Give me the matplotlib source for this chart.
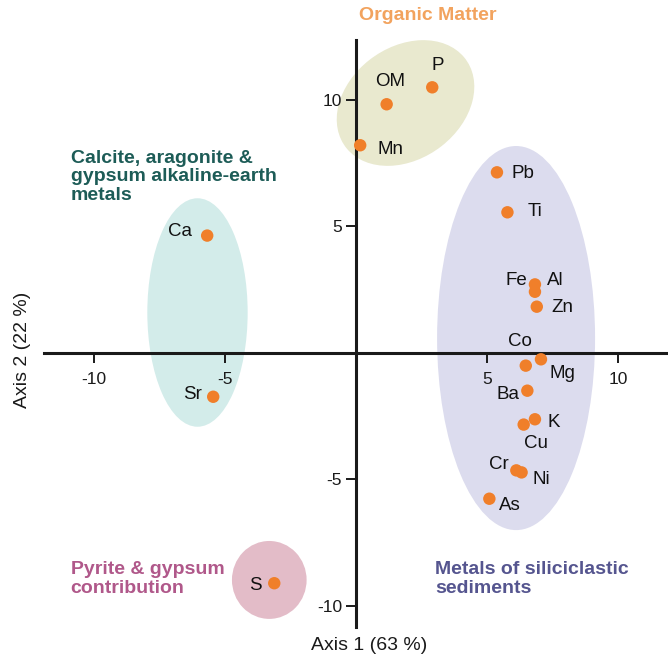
import matplotlib
matplotlib.use("Agg")
import matplotlib.pyplot as plt
from matplotlib.patches import Ellipse

plt.rcParams['font.family'] = ['Liberation Sans', 'DejaVu Sans']
plt.rcParams['axes.unicode_minus'] = False

# ---- data ----
elements = ["OM", "P", "Mn", "Pb", "Ti", "Al", "Fe", "Zn", "Co", "Mg", "Ba",
            "K", "Cu", "Cr", "Ni", "As", "Ca", "Sr", "S"]
axis1 = [1.17, 2.91, 0.16, 5.38, 5.78, 6.83, 6.83, 6.90, 6.48, 7.06, 6.54,
         6.83, 6.40, 6.12, 6.32, 5.09, -5.68, -5.45, -3.12]
axis2 = [9.83, 10.50, 8.21, 7.14, 5.56, 2.71, 2.42, 1.83, -0.50, -0.25, -1.49,
         -2.62, -2.83, -4.64, -4.72, -5.76, 4.64, -1.73, -9.10]
x_ticks = [-10, -5, 5, 10]
y_ticks = [-10, -5, 5, 10]
group_names = ["Organic Matter",
               "Calcite, aragonite &\ngypsum alkaline-earth\nmetals",
               "Metals of siliciclastic\nsediments",
               "Pyrite & gypsum\ncontribution"]

# label placement (offset pixels, ha)
label_pos = {
    "OM": (3, 23, "center"), "P": (6, 22, "center"), "Mn": (17, -4, "left"),
    "Pb": (15, -1, "left"), "Ti": (20, 1, "left"), "Fe": (-8, 11, "right"),
    "Al": (12, 4, "left"), "Zn": (15, -1, "left"), "Co": (-6, 24, "center"),
    "Mg": (9, -14, "left"), "Ba": (-8, -4, "right"), "K": (13, -3, "left"),
    "Cu": (12, -19, "center"), "Cr": (-8, 6, "right"), "Ni": (11, -7, "left"),
    "As": (10, -7, "left"), "Ca": (-15, 4, "right"), "Sr": (-11, 2, "right"),
    "S": (-13, -2, "right"),
}

W, H = 668, 659
fig = plt.figure(figsize=(W / 100, H / 100), dpi=100)
xlim = (-11.9, 11.9)
ylim = (-10.83, 12.37)
x0px, xscale = 356.0, 26.2
ytop, ybot = 40.0, 627.0
left = (x0px + xlim[0] * xscale) / W
right = (x0px + xlim[1] * xscale) / W
ax = fig.add_axes([left, 1 - ybot / H, right - left, (ybot - ytop) / H])
ax.set_xlim(*xlim)
ax.set_ylim(*ylim)

# ellipses (groups)
ells = [
    dict(xy=(1.89, 9.88), w=5.75, h=4.38, ang=39, fc="#e9e9cf"),
    dict(xy=(-6.05, 1.60), w=3.83, h=9.03, ang=0, fc="#d3ecea"),
    dict(xy=(6.11, 0.59), w=6.03, h=15.18, ang=0, fc="#dcdcee"),
    dict(xy=(-3.31, -8.97), w=2.85, h=3.08, ang=0, fc="#e3bcc8"),
]
for e in ells:
    ax.add_patch(Ellipse(e["xy"], e["w"], e["h"], angle=e["ang"],
                         facecolor=e["fc"], edgecolor="none", zorder=0))

ax.scatter(axis1, axis2, s=80, color="#f07f2a", edgecolors="none", zorder=3)

for name, x, y in zip(elements, axis1, axis2):
    dx, dy, ha = label_pos[name]
    ax.annotate(name, (x, y), xytext=(dx, dy), textcoords="offset pixels",
                ha=ha, va="center", fontsize=13.5, color="#111111", zorder=4)

# spines through origin
for s in ["top", "right"]:
    ax.spines[s].set_visible(False)
ax.spines["left"].set_position(("data", 0))
ax.spines["bottom"].set_position(("data", 0))
for s in ["left", "bottom"]:
    ax.spines[s].set_linewidth(2.2)
    ax.spines[s].set_color("#1a1a1a")
    ax.spines[s].set_zorder(2)
ax.set_xticks(x_ticks)
ax.set_yticks(y_ticks)
ax.set_xticklabels([str(t) for t in x_ticks])
ax.set_yticklabels([str(t) for t in y_ticks])
ax.tick_params(axis="x", direction="out", length=7, width=1.4, pad=6.5,
               labelsize=12.5, colors="#1a1a1a")
ax.tick_params(axis="y", direction="out", length=7, width=1.4, pad=3,
               labelsize=12.5, colors="#1a1a1a")
ax.patch.set_alpha(0)

fig.text(369 / W, 1 - 645 / H, "Axis 1 (63 %)", ha="center", va="center",
         fontsize=14, color="#1a1a1a")
fig.text(23 / W, 1 - 350 / H, "Axis 2 (22 %)", ha="center", va="center",
         rotation=90, fontsize=14, color="#1a1a1a")

bold = dict(fontsize=14, fontweight="bold", linespacing=1.12)
fig.text(428 / W, 1 - 16 / H, group_names[0], ha="center", va="center",
         color="#f2a35e", **bold)
fig.text(70.7 / W, 1 - 177 / H, group_names[1], ha="left", va="center",
         color="#1d5c57", **bold)
fig.text(435 / W, 1 - 579 / H, group_names[2], ha="left", va="center",
         color="#55558f", **bold)
fig.text(70.7 / W, 1 - 579 / H, group_names[3], ha="left", va="center",
         color="#b0588a", **bold)

fig.savefig("out.png", dpi=100)
